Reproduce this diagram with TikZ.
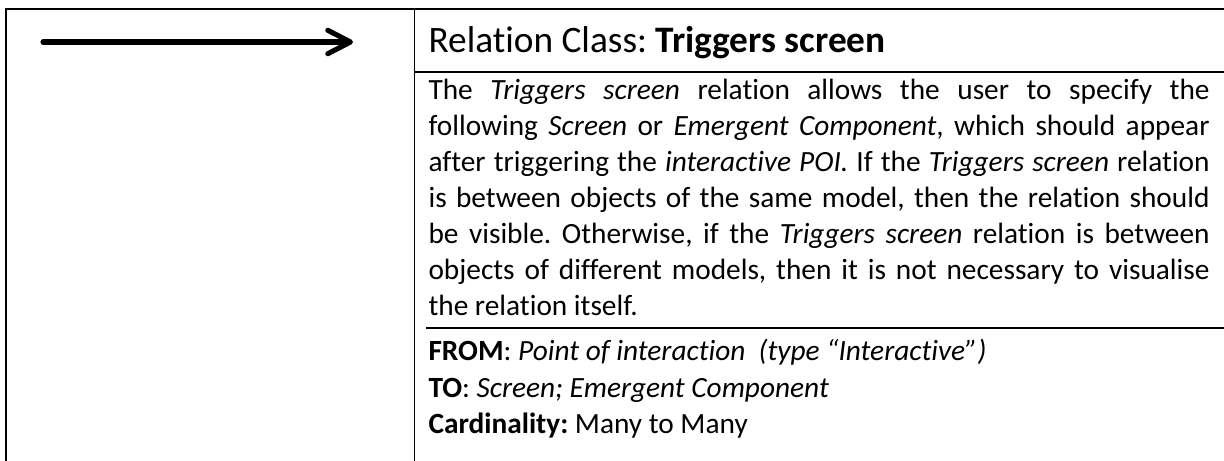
\documentclass[tikz,border=0pt]{standalone}
\usepackage{fontspec}
\setmainfont{Carlito}[Ligatures={TeX,NoCommon}]
\usetikzlibrary{arrows.meta}
\frenchspacing
\newcommand{\jline}[1]{\makebox[292.9pt][s]{#1}}
\begin{document}
\begin{tikzpicture}[x=0.375pt,y=-0.375pt,
  outer/.style={line width=0.75pt, line cap=rect},
  inner/.style={line width=0.6pt},
  sep/.style={line width=0.75pt},
  bodytext/.style={font=\fontsize{11}{13.5}\selectfont, inner sep=0pt, anchor=base west},
  titletext/.style={font=\fontsize{14}{17}\selectfont, inner sep=0pt, anchor=base west},
  legendarrow/.style={line width=1.9pt, line cap=round,
    -{Straight Barb[length=8.5pt, width=8.8pt, round]}}]
\useasboundingbox (0,0) rectangle (1224,461);
% table lines
\draw[outer] (6,461) -- (6,8.5) -- (1224,8.5);
\draw[inner] (414.5,8.5) -- (414.5,461);
\draw[sep] (414.5,71.5) -- (1224,71.5);
\draw[sep] (426,327.5) -- (1224,327.5);
% legend arrow
\coordinate (a1) at (43,42);
\coordinate (a2) at (353,42);
\draw[legendarrow] (a1) -- (a2);
% texts
\node[titletext] (title) at (428,52) {Relation Class: \textbf{Triggers screen}};
\node[bodytext] (l1) at (428,99) {\jline{The \textit{Triggers screen} relation allows the user to specify the}};
\node[bodytext] (l2) at (428,135) {\jline{following \textit{Screen} or \textit{Emergent Component}, which should appear}};
\node[bodytext] (l3) at (428,171) {\jline{after triggering the \textit{interactive POI.} If the \textit{Triggers screen} relation}};
\node[bodytext] (l4) at (428,207) {\jline{is between objects of the same model, then the relation should}};
\node[bodytext] (l5) at (428,243) {\jline{be visible. Otherwise, if the \textit{Triggers screen} relation is between}};
\node[bodytext] (l6) at (428,279) {\jline{objects of different models, then it is not necessary to visualise}};
\node[bodytext] (l7) at (428,315) {the relation itself.};
\node[bodytext] (from) at (428,360) {\textbf{FROM}: \textit{Point of interaction\ \ (type “Interactive”)}};
\node[bodytext] (to) at (428,397) {\textbf{TO}: \textit{Screen; Emergent Component}};
\node[bodytext] (card) at (428,433) {\textbf{Cardinality:} Many to Many};
\end{tikzpicture}
\end{document}
